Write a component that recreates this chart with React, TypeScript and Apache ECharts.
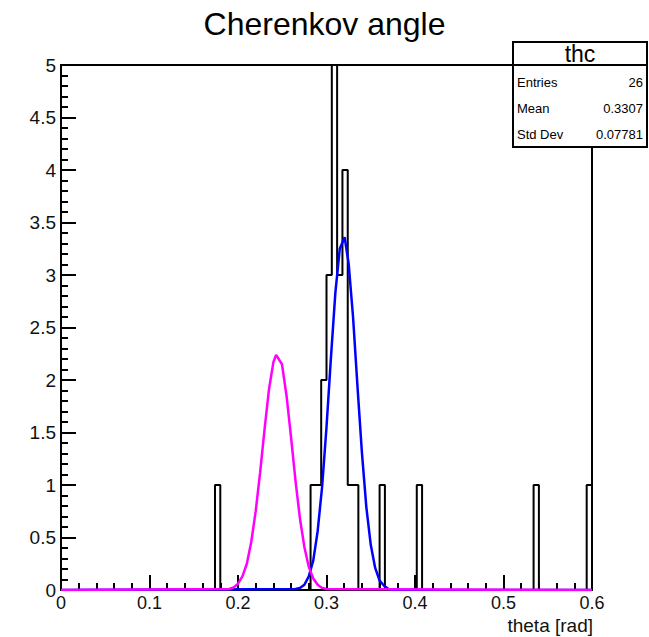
import React, { useEffect, useRef } from "react";
import * as echarts from "echarts";

// Histogram "thc": 100 bins in [0, 0.6]
const xMin = 0;
const xMax = 0.6;
const nBins = 100;
const binLowEdges = [0.174, 0.282, 0.288, 0.294, 0.3, 0.306, 0.312, 0.318, 0.324, 0.33, 0.36, 0.402, 0.534, 0.594];
const binCounts = [1, 1, 1, 2, 3, 5, 3, 4, 1, 1, 1, 1, 1, 1];

// Fitted curves
const blueTheta = [0, 0.265, 0.27, 0.275, 0.28, 0.285, 0.29, 0.295, 0.3, 0.305, 0.31, 0.315, 0.3205, 0.325, 0.33, 0.335, 0.34, 0.345, 0.35, 0.355, 0.36, 0.365, 0.37, 0.375, 0.6];
const blueValues = [0, 0.01, 0.02, 0.05, 0.13, 0.28, 0.56, 0.98, 1.55, 2.21, 2.83, 3.25, 3.36, 3.11, 2.6, 1.94, 1.31, 0.79, 0.43, 0.21, 0.09, 0.04, 0.01, 0, 0];
const magentaTheta = [0, 0.19, 0.195, 0.2, 0.205, 0.21, 0.215, 0.22, 0.225, 0.23, 0.235, 0.24, 0.243, 0.2497, 0.255, 0.26, 0.265, 0.27, 0.275, 0.28, 0.285, 0.29, 0.295, 0.3, 0.6];
const magentaValues = [0, 0.01, 0.025, 0.06, 0.13, 0.25, 0.46, 0.75, 1.12, 1.53, 1.91, 2.17, 2.24, 2.15, 1.84, 1.45, 1.04, 0.68, 0.41, 0.22, 0.11, 0.05, 0.02, 0.01, 0];

// Axis ticks
const xTickLabels = ["0", "0.1", "0.2", "0.3", "0.4", "0.5", "0.6"];
const yTickLabels = ["0", "0.5", "1", "1.5", "2", "2.5", "3", "3.5", "4", "4.5", "5"];

// Stats box
const statsTitle = "thc";
const statsNames = ["Entries", "Mean", "Std Dev"];
const statsValues = ["26", "0.3307", "0.07781"];

const FONT = "'Liberation Sans', Arial, Helvetica, sans-serif";

export default function App() {
  const ref = useRef<HTMLDivElement>(null);
  useEffect(() => {
    if (!ref.current) return;
    const chart = echarts.init(ref.current, undefined, { renderer: "svg" });
    const bw = (xMax - xMin) / nBins;
    const counts = new Array(nBins).fill(0);
    binLowEdges.forEach((lo, i) => {
      const idx = Math.round((lo - xMin) / bw);
      counts[idx] = binCounts[i];
    });
    const histPts: number[][] = [[xMin, 0]];
    for (let i = 0; i < nBins; i++) {
      const lo = xMin + i * bw;
      const hi = lo + bw;
      histPts.push([lo, counts[i]]);
      histPts.push([hi, counts[i]]);
    }
    histPts.push([xMax, 0]);
    const blue = blueTheta.map((t, i) => [t, blueValues[i]]);
    const magenta = magentaTheta.map((t, i) => [t, magentaValues[i]]);

    const rowY = [82, 108, 134];
    const statsChildren: any[] = [
      { type: "rect", shape: { x: 513, y: 42, width: 134, height: 105 }, style: { fill: "#fff", stroke: "#000", lineWidth: 2 } },
      { type: "line", shape: { x1: 513, y1: 65, x2: 647, y2: 65 }, style: { stroke: "#000", lineWidth: 2 } },
      { type: "text", x: 580, y: 54, style: { text: statsTitle, fontSize: 23, fontFamily: FONT, fill: "#000", align: "center", verticalAlign: "middle" } },
    ];
    statsNames.forEach((n, i) => {
      statsChildren.push({ type: "text", x: 517, y: rowY[i], style: { text: n, fontSize: 13, fontFamily: FONT, fill: "#000", align: "left", verticalAlign: "middle" } });
      statsChildren.push({ type: "text", x: 643, y: rowY[i], style: { text: statsValues[i], fontSize: 13, fontFamily: FONT, fill: "#000", align: "right", verticalAlign: "middle" } });
    });

    chart.setOption({
      animation: false,
      backgroundColor: "#fff",
      title: {
        text: "Cherenkov angle",
        left: "center",
        top: 3,
        textStyle: { fontSize: 32, fontWeight: "normal", fontFamily: FONT, color: "#000" },
      },
      grid: { left: 61, right: 57, top: 65, bottom: 47, show: true, borderColor: "#000", borderWidth: 2, backgroundColor: "transparent" },
      xAxis: {
        type: "value",
        min: 0,
        max: 0.6,
        interval: 0.1,
        axisLine: { show: true, onZero: false, lineStyle: { color: "#000", width: 2 } },
        axisTick: { show: true, inside: true, length: 15, lineStyle: { color: "#000", width: 2 } },
        minorTick: { show: true, splitNumber: 5, length: 7, lineStyle: { color: "#000", width: 2 } },
        splitLine: { show: false },
        axisLabel: {
          margin: 4,
          fontSize: 18,
          fontFamily: FONT,
          color: "#111",
          formatter: (v: number) => xTickLabels[Math.round(v * 10)] ?? "",
        },
      },
      yAxis: {
        type: "value",
        min: 0,
        max: 5,
        interval: 0.5,
        axisLine: { show: true, onZero: false, lineStyle: { color: "#000", width: 2 } },
        axisTick: { show: true, inside: true, length: 15, lineStyle: { color: "#000", width: 2 } },
        minorTick: { show: true, splitNumber: 5, length: 7, lineStyle: { color: "#000", width: 2 } },
        splitLine: { show: false },
        axisLabel: {
          margin: 5,
          fontSize: 19,
          fontFamily: FONT,
          color: "#111",
          formatter: (v: number) => yTickLabels[Math.round(v * 2)] ?? "",
        },
      },
      series: [
        { type: "line", data: histPts, symbol: "none", lineStyle: { color: "#000", width: 2 }, z: 2 },
        { type: "line", data: blue, symbol: "none", lineStyle: { color: "#0000ff", width: 2.5 }, z: 3 },
        { type: "line", data: magenta, symbol: "none", lineStyle: { color: "#ff00ff", width: 2.5 }, z: 4 },
      ],
      graphic: [
        { type: "text", x: 593, y: 616, style: { text: "theta [rad]", fontSize: 19, fontFamily: FONT, fill: "#111", align: "right", verticalAlign: "top" } },
        { type: "group", children: statsChildren, z: 100 },
      ],
    });
    return () => chart.dispose();
  }, []);
  return <div ref={ref} style={{ position: "fixed", left: 0, top: 0, width: 649, height: 637 }} />;
}
